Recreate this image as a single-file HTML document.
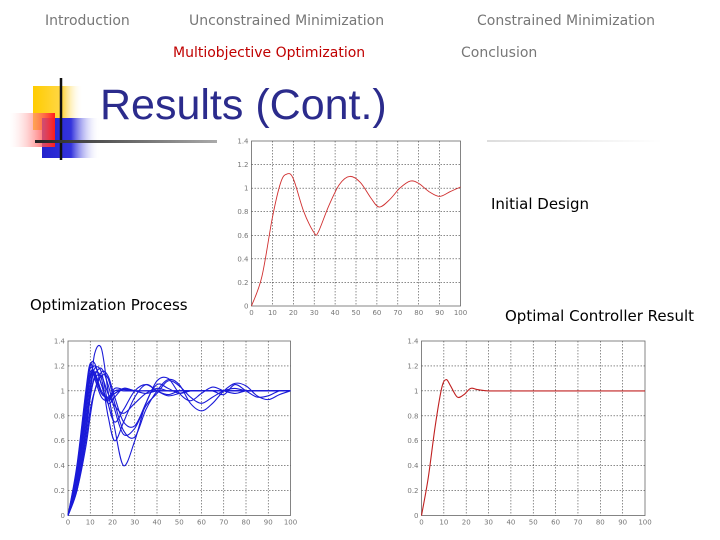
<!DOCTYPE html>
<html><head><meta charset="utf-8">
<style>
body{margin:0;width:720px;height:540px;background:#fff;position:relative;overflow:hidden;font-family:"DejaVu Sans","Liberation Sans",sans-serif;}
.nav{position:absolute;font-size:14px;color:#777;white-space:nowrap;}
.lbl{position:absolute;font-size:15px;color:#000;white-space:nowrap;}
svg{position:absolute;left:0;top:0;}
</style></head><body>
<div class="nav" style="left:45px;top:13px">Introduction</div>
<div class="nav" style="left:189px;top:13px">Unconstrained Minimization</div>
<div class="nav" style="left:477px;top:13px">Constrained Minimization</div>
<div class="nav" style="left:173px;top:45px;color:#c00000">Multiobjective Optimization</div>
<div class="nav" style="left:461px;top:45px">Conclusion</div>

<svg width="720" height="540">
<defs>
<linearGradient id="gy" x1="0" x2="1"><stop offset="0" stop-color="#ffcc00"/><stop offset="0.6" stop-color="#ffd84a"/><stop offset="1" stop-color="#fff" stop-opacity="0"/></linearGradient>
<linearGradient id="gr" x1="1" x2="0"><stop offset="0" stop-color="#ff1a1a"/><stop offset="1" stop-color="#fff" stop-opacity="0.2"/></linearGradient>
<linearGradient id="gb" x1="0" x2="1"><stop offset="0" stop-color="#2222cc"/><stop offset="0.5" stop-color="#3333dd"/><stop offset="1" stop-color="#fff" stop-opacity="0"/></linearGradient>
<linearGradient id="gl" x1="0" x2="1"><stop offset="0" stop-color="#222"/><stop offset="1" stop-color="#aaa"/></linearGradient>
<linearGradient id="gl2" x1="0" x2="1"><stop offset="0" stop-color="#ddd"/><stop offset="1" stop-color="#fff"/></linearGradient>
</defs>
<rect x="33" y="86" width="50" height="44" fill="url(#gy)"/>
<rect x="42" y="118" width="58" height="40" fill="url(#gb)"/>
<rect x="10" y="113" width="45" height="34" fill="url(#gr)"/>
<line x1="61" y1="78" x2="61" y2="160" stroke="#111" stroke-width="2.5"/>
<rect x="35" y="140" width="182" height="3" fill="url(#gl)"/>
<rect x="487" y="140" width="175" height="2" fill="url(#gl2)"/>
<text x="100" y="119" font-size="43" fill="#2b2b8c" font-family="Liberation Sans, sans-serif">Results (Cont.)</text>
<g id="charts"></g>
</svg>

<div class="lbl" style="left:491px;top:195px">Initial Design</div>
<div class="lbl" style="left:30px;top:296px">Optimization Process</div>
<div class="lbl" style="left:505px;top:307px">Optimal Controller Result</div>

<script>
const xTicks=[0,10,20,30,40,50,60,70,80,90,100];
const yTicks=[0,0.2,0.4,0.6,0.8,1,1.2,1.4];
const yTickLabels=["0","0.2","0.4","0.6","0.8","1","1.2","1.4"];
// Initial design response
const initT=[0,5,10,14,17,20,25,30,32,37,42,47,52,57,61,66,71,76,80,85,90,95,100];
const initY=[0,0.25,0.75,1.05,1.12,1.08,0.8,0.62,0.63,0.85,1.03,1.1,1.05,0.92,0.84,0.9,1.0,1.06,1.04,0.97,0.93,0.97,1.01];
// Optimal controller response
const optT=[0,3,6,9,11,13,16,19,22,25,30,40,100];
const optY=[0,0.3,0.7,1.02,1.09,1.04,0.95,0.97,1.02,1.01,1.0,1.0,1.0];
// Optimization process iterations
const procT=[0,4,8,10,12,15,18,21,25,30,35,40,45,50,55,60,65,70,75,80,85,90,95,100];
const procY=[
[0,0.3,0.85,1.1,1.2,1.05,0.92,1.0,1.0,1.0,1.0,1.0,1.0,1.0,1.0,1.0,1.0,1.0,1.0,1.0,1.0,1.0,1.0,1.0],
[0,0.35,0.95,1.2,1.22,1.05,0.9,0.95,1.02,1.0,1.0,1.0,1.0,1.0,1.0,1.0,1.0,1.0,1.0,1.0,1.0,1.0,1.0,1.0],
[0,0.4,1.0,1.22,1.1,0.95,0.93,1.02,1.01,1.0,1.0,1.0,1.0,1.0,1.0,1.0,1.0,1.0,1.0,1.0,1.0,1.0,1.0,1.0],
[0,0.32,0.9,1.12,1.15,1.0,0.94,0.98,1.01,1.0,1.0,1.0,1.0,1.0,1.0,1.0,1.0,1.0,1.0,1.0,1.0,1.0,1.0,1.0],
[0,0.38,0.98,1.18,1.14,0.98,0.95,1.0,1.01,1.0,1.0,1.0,1.0,1.0,1.0,1.0,1.0,1.0,1.0,1.0,1.0,1.0,1.0,1.0],
[0,0.25,0.7,1.0,1.3,1.34,1.0,0.7,0.4,0.6,0.9,1.05,1.02,0.98,1.0,1.0,1.0,1.0,1.0,1.0,1.0,1.0,1.0,1.0],
[0,0.2,0.6,0.85,1.0,1.12,1.1,0.9,0.68,0.63,0.85,1.0,1.09,1.05,0.9,0.84,0.9,1.0,1.06,1.04,0.96,0.93,0.97,1.0],
[0,0.3,0.8,1.05,1.15,1.1,0.8,0.6,0.75,0.95,1.05,1.0,0.97,1.0,1.0,1.0,1.0,1.0,1.0,1.0,1.0,1.0,1.0,1.0],
[0,0.2,0.55,0.8,1.0,1.15,1.12,0.95,0.75,0.72,0.9,1.08,1.1,0.98,0.92,0.98,1.03,1.0,0.98,1.0,1.0,1.0,1.0,1.0],
[0,0.28,0.75,1.0,1.18,1.15,0.9,0.75,0.85,1.0,1.05,1.0,0.96,0.98,1.0,1.0,1.0,1.0,1.0,1.0,1.0,1.0,1.0,1.0],
[0,0.33,0.9,1.15,1.12,0.98,0.95,0.98,1.02,1.0,0.98,1.0,1.0,1.0,1.0,1.0,1.0,0.97,1.05,1.0,0.95,0.96,1.0,1.0],
[0,0.22,0.65,0.95,1.12,1.18,1.05,0.85,0.65,0.7,0.88,0.98,1.08,1.04,0.95,0.9,0.95,1.0,1.02,1.0,1.0,1.0,1.0,1.0],
[0,0.24,0.68,0.95,1.1,1.12,0.98,0.88,0.82,0.9,0.98,1.02,1.0,1.0,1.0,1.0,1.0,1.0,1.0,1.0,1.0,1.0,1.0,1.0]
];
const NS='http://www.w3.org/2000/svg';
const root=document.getElementById('charts');
function el(tag,attrs,parent){const e=document.createElementNS(NS,tag);for(const k in attrs)e.setAttribute(k,attrs[k]);(parent||root).appendChild(e);return e;}
function smooth(pts){let d='M'+pts[0][0]+','+pts[0][1];for(let i=0;i<pts.length-1;i++){const p0=pts[Math.max(0,i-1)],p1=pts[i],p2=pts[i+1],p3=pts[Math.min(pts.length-1,i+2)];const c1x=p1[0]+(p2[0]-p0[0])/6,c1y=p1[1]+(p2[1]-p0[1])/6,c2x=p2[0]-(p3[0]-p1[0])/6,c2y=p2[1]-(p3[1]-p1[1])/6;d+=' C'+c1x.toFixed(1)+','+c1y.toFixed(1)+' '+c2x.toFixed(1)+','+c2y.toFixed(1)+' '+p2[0].toFixed(1)+','+p2[1].toFixed(1);}return d;}
function chart(name,L,R,T,B,series,color,width){
  const g=el('g',{});
  
  
  const sx=v=>L+(v/100)*(R-L), sy=v=>B-(v/1.4)*(B-T);
  el('rect',{x:L,y:T,width:R-L,height:B-T,fill:'#fff',stroke:'#666','stroke-width':0.8},g);
  xTicks.forEach((t,i)=>{
    if(t>0&&t<100){const ln=el('line',{x1:sx(t),x2:sx(t),y1:T,y2:B,stroke:'#444','stroke-width':0.6,'stroke-dasharray':'1.5,1.5'},g);
    
    }
    const tx=el('text',{x:sx(t),y:B+9,'font-size':7,fill:'#777','text-anchor':'middle'},g);tx.textContent=t;
    
    
  });
  yTicks.forEach((t,i)=>{
    if(t>0&&t<1.4){const ln=el('line',{x1:L,x2:R,y1:sy(t),y2:sy(t),stroke:'#444','stroke-width':0.6,'stroke-dasharray':'1.5,1.5'},g);
    
    }
    const tx=el('text',{x:L-3,y:sy(t)+2.5,'font-size':7,fill:'#777','text-anchor':'end'},g);tx.textContent=yTickLabels[i];
    
    
  });
  series.forEach(s=>{
    const pts=s.t.map((t,i)=>[sx(t),sy(s.y[i])]);
    const p=el('path',{d:smooth(pts),fill:'none',stroke:color,'stroke-width':width},g);
    
    
  });
}
chart('initial-design-chart',251.5,460.5,141,306,[{t:initT,y:initY}],'#d03030',0.9);
chart('optimization-process-chart',68,290.5,341,515.5,procY.map(y=>({t:procT,y:y})),'#1a1ad8',1.1);
chart('optimal-controller-chart',421.5,645,341,515.5,[{t:optT,y:optY}],'#c02020',1.1);
</script>
</body></html>
